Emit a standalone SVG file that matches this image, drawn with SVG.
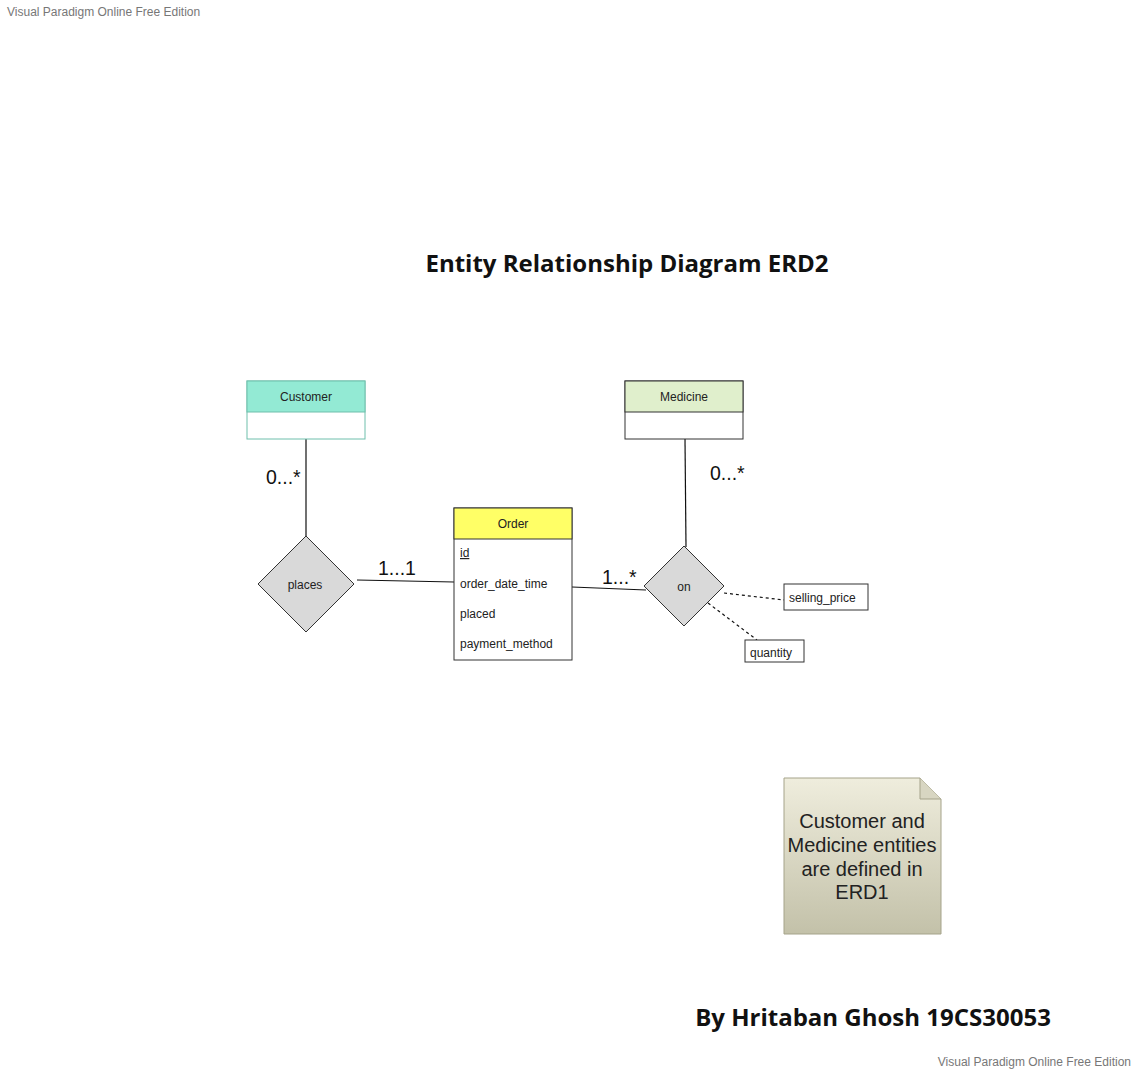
<svg xmlns="http://www.w3.org/2000/svg" width="1137" height="1071" viewBox="0 0 1137 1071">
<defs>
<linearGradient id="noteGrad" x1="0" y1="0" x2="0" y2="1">
<stop offset="0" stop-color="#efeddd"/>
<stop offset="1" stop-color="#c3c1a9"/>
</linearGradient>
</defs>
<style>
.wm{font-family:"Liberation Sans",Arial,sans-serif;font-size:12px;fill:#777}
.big{font-family:"Open Sans","Noto Sans",sans-serif;font-weight:bold;fill:#111}
.lbl{font-family:"Liberation Sans",Arial,sans-serif;font-size:12px;fill:#222}
.card{font-family:"Liberation Sans",Arial,sans-serif;font-size:19.5px;fill:#111}
.ent{stroke:#333;stroke-width:1}
.rel{fill:#d9d9d9;stroke:#333;stroke-width:1}
.line{stroke:#111;stroke-width:1.2;fill:none}
.dash{stroke:#111;stroke-width:1.2;fill:none;stroke-dasharray:3,3}
.note{font-family:"Liberation Sans",Arial,sans-serif;font-size:20px;fill:#222}
</style>
<rect width="1137" height="1071" fill="#fff"/>
<text class="wm" x="7" y="16">Visual Paradigm Online Free Edition</text>
<text class="wm" x="1131" y="1066" text-anchor="end">Visual Paradigm Online Free Edition</text>
<text class="big" x="627" y="272" font-size="24" text-anchor="middle">Entity Relationship Diagram ERD2</text>
<text class="big" x="873" y="1026" font-size="24" text-anchor="middle">By Hritaban Ghosh 19CS30053</text>

<g id="connectors">
<line class="line" x1="306" y1="439" x2="306" y2="536"/>
<line class="line" x1="357" y1="580" x2="454" y2="582"/>
<line class="line" x1="572" y1="587" x2="646" y2="590"/>
<line class="line" x1="685" y1="439" x2="686" y2="547"/>
<line class="dash" x1="724" y1="593" x2="784" y2="600"/>
<line class="dash" x1="708" y1="603" x2="757" y2="640"/>
<text class="card" x="266" y="484">0...*</text>
<text class="card" x="378" y="575">1...1</text>
<text class="card" x="602" y="584">1...*</text>
<text class="card" x="710" y="480">0...*</text>
</g>

<g id="customer">
<rect x="247" y="381" width="118" height="58" fill="#fff" stroke="#6fbfac"/>
<rect x="247" y="381" width="118" height="31" fill="#93ead4" stroke="#6fbfac"/>
<text class="lbl" x="306" y="401" text-anchor="middle">Customer</text>
</g>

<g id="medicine">
<rect class="ent" x="625" y="381" width="118" height="58" fill="#fff"/>
<rect class="ent" x="625" y="381" width="118" height="31" fill="#e0efcc"/>
<text class="lbl" x="684" y="401" text-anchor="middle">Medicine</text>
</g>

<g id="order">
<rect class="ent" x="454" y="508" width="118" height="152" fill="#fff"/>
<rect class="ent" x="454" y="508" width="118" height="31" fill="#ffff66"/>
<text class="lbl" x="513" y="528" text-anchor="middle">Order</text>
<text class="lbl" x="460" y="557" text-decoration="underline">id</text>
<text class="lbl" x="460" y="588">order_date_time</text>
<text class="lbl" x="460" y="618">placed</text>
<text class="lbl" x="460" y="648">payment_method</text>
</g>

<g id="places">
<polygon class="rel" points="306,536 354,584 306,632 258,584"/>
<text class="lbl" x="305" y="589" text-anchor="middle">places</text>
</g>

<g id="on">
<polygon class="rel" points="684,546 724,586 684,626 644,586"/>
<text class="lbl" x="684" y="591" text-anchor="middle">on</text>
</g>

<g id="selling_price">
<rect class="ent" x="784" y="584" width="84" height="26" fill="#fff"/>
<text class="lbl" x="789" y="602">selling_price</text>
</g>

<g id="quantity">
<rect class="ent" x="745" y="640" width="59" height="22" fill="#fff"/>
<text class="lbl" x="750" y="657">quantity</text>
</g>

<g id="note">
<path d="M784,778 H920 L941,799 V934 H784 Z" fill="url(#noteGrad)" stroke="#a5a38a"/>
<path d="M920,778 V799 H941" fill="#d8d6c2" stroke="#a5a38a"/>
<text class="note" text-anchor="middle"><tspan x="862" y="828">Customer and</tspan><tspan x="862" y="852">Medicine entities</tspan><tspan x="862" y="876">are defined in</tspan><tspan x="862" y="899">ERD1</tspan></text>
</g>
</svg>
